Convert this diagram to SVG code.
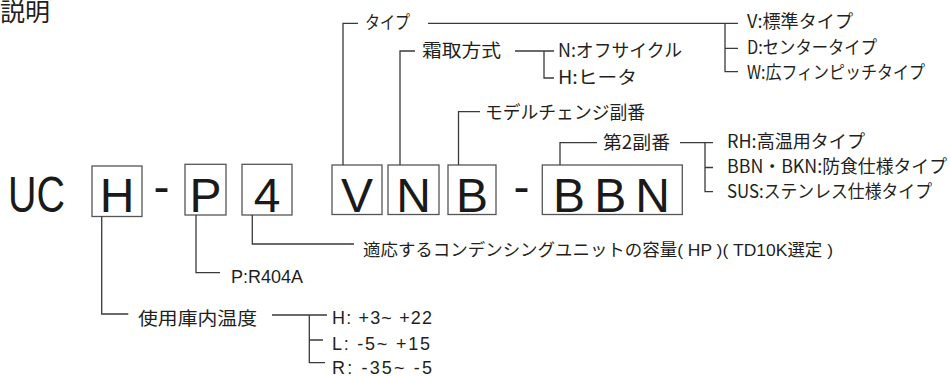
<svg xmlns="http://www.w3.org/2000/svg" width="950" height="376" viewBox="0 0 950 376">
<style>
.bg{fill:#fff}
.box{fill:none;stroke:#555;stroke-width:1.3}
.ln{fill:none;stroke:#3a3a3a;stroke-width:1.3}
.big{font-family:"Liberation Sans",Arial,sans-serif;font-size:48px;fill:#1a1a1a}
.jp{font-family:"Noto Sans CJK JP","Liberation Sans",sans-serif;font-size:18px;fill:#231f20}
.lat{font-family:"Liberation Sans","Noto Sans CJK JP",sans-serif;font-size:18px;fill:#231f20}
.mix{font-family:"Liberation Sans","Noto Sans CJK JP",sans-serif;font-size:17px;fill:#231f20}
</style>
<rect class="bg" x="0" y="0" width="950" height="376"/>
<text class="jp" x="0" y="21" style="font-size:25px">説明</text>
<g id="model">
<text class="big" x="8" y="212" textLength="57" lengthAdjust="spacingAndGlyphs" style="font-size:50px">UC</text>
<text class="big" x="161.5" y="203" text-anchor="middle">-</text>
<text class="big" x="521.5" y="203" text-anchor="middle">-</text>
</g>
<g id="box-H"><rect class="box" x="92" y="166" width="50" height="50.5"/><text class="big" x="117" y="211.7" text-anchor="middle">H</text></g>
<g id="box-P"><rect class="box" x="185" y="164.3" width="41" height="50.7"/><text class="big" x="205.5" y="211.7" text-anchor="middle">P</text></g>
<g id="box-4"><rect class="box" x="242" y="164.3" width="50" height="50.7"/><text class="big" x="267" y="211.7" text-anchor="middle">4</text></g>
<g id="box-V"><rect class="box" x="332" y="165" width="50" height="49.5"/><text class="big" x="357" y="211.7" text-anchor="middle">V</text></g>
<g id="box-N"><rect class="box" x="388" y="165" width="51" height="49.5"/><text class="big" x="413.5" y="211.7" text-anchor="middle">N</text></g>
<g id="box-B"><rect class="box" x="448" y="165" width="48" height="49.5"/><text class="big" x="472" y="211.7" text-anchor="middle">B</text></g>
<g id="box-BBN"><rect class="box" x="542.3" y="165" width="140" height="49.5"/><text class="big" x="553" y="211.7" textLength="117" lengthAdjust="spacing">BBN</text></g>
<g id="connectors">
<path class="ln" d="M101.7 216.5V314H128.3"/>
<path class="ln" d="M196 215V272.7H220"/>
<path class="ln" d="M252.3 215V244H354"/>
<path class="ln" d="M272 315H327M309.3 315V362.7H325M309.3 340H323"/>
<path class="ln" d="M343 165V23.3H358M428 23.3H738M725 23.3V71.7H738M725 48.3H738"/>
<path class="ln" d="M400 165V51H415M515 51H554M544 51V78H554"/>
<path class="ln" d="M458.5 165V111.7H480"/>
<path class="ln" d="M560 165V142.7H597M680 142.7H713M705 142.7V191.7H713M705 167.5H713"/>
</g>
<g id="label-type"><text class="jp" x="365" y="29" textLength="45" lengthAdjust="spacingAndGlyphs">タイプ</text></g>
<g id="label-defrost"><text class="jp" x="422" y="57" textLength="79" lengthAdjust="spacingAndGlyphs">霜取方式</text></g>
<g id="opt-N"><text class="jp" x="558" y="57" textLength="124" lengthAdjust="spacingAndGlyphs">N:オフサイクル</text></g>
<g id="opt-H"><text class="jp" x="558" y="84" textLength="79" lengthAdjust="spacingAndGlyphs">H:ヒータ</text></g>
<g id="label-model-change"><text class="jp" x="485" y="119" textLength="160" lengthAdjust="spacingAndGlyphs">モデルチェンジ副番</text></g>
<g id="opt-V"><text class="jp" x="747" y="28" textLength="106" lengthAdjust="spacingAndGlyphs">V:標準タイプ</text></g>
<g id="opt-D"><text class="jp" x="747" y="54" textLength="130" lengthAdjust="spacingAndGlyphs">D:センタータイプ</text></g>
<g id="opt-W"><text class="jp" x="747" y="79" textLength="178" lengthAdjust="spacingAndGlyphs">W:広フィンピッチタイプ</text></g>
<g id="label-second"><text class="jp" x="603" y="149" textLength="67" lengthAdjust="spacingAndGlyphs">第2副番</text></g>
<g id="opt-RH"><text class="jp" x="727" y="148" textLength="138" lengthAdjust="spacingAndGlyphs">RH:高温用タイプ</text></g>
<g id="opt-BBN"><text class="jp" x="727" y="173" textLength="220" lengthAdjust="spacingAndGlyphs">BBN・BKN:防食仕様タイプ</text></g>
<g id="opt-SUS"><text class="jp" x="727" y="198" textLength="205" lengthAdjust="spacingAndGlyphs">SUS:ステンレス仕様タイプ</text></g>
<g id="label-capacity"><text class="mix" x="363" y="255.5" textLength="470" lengthAdjust="spacingAndGlyphs">適応するコンデンシングユニットの容量( HP )( TD10K選定 )</text></g>
<g id="label-refrigerant"><text class="lat" x="231" y="282.7" textLength="72">P:R404A</text></g>
<g id="label-temp"><text class="jp" x="138" y="325" textLength="119" lengthAdjust="spacingAndGlyphs">使用庫内温度</text></g>
<g id="opt-temp-H"><text class="lat" x="332" y="323.5" textLength="100">H: +3~ +22</text></g>
<g id="opt-temp-L"><text class="lat" x="332" y="349.5" textLength="98">L: -5~ +15</text></g>
<g id="opt-temp-R"><text class="lat" x="332" y="373.5" textLength="100">R: -35~ -5</text></g>
</svg>
